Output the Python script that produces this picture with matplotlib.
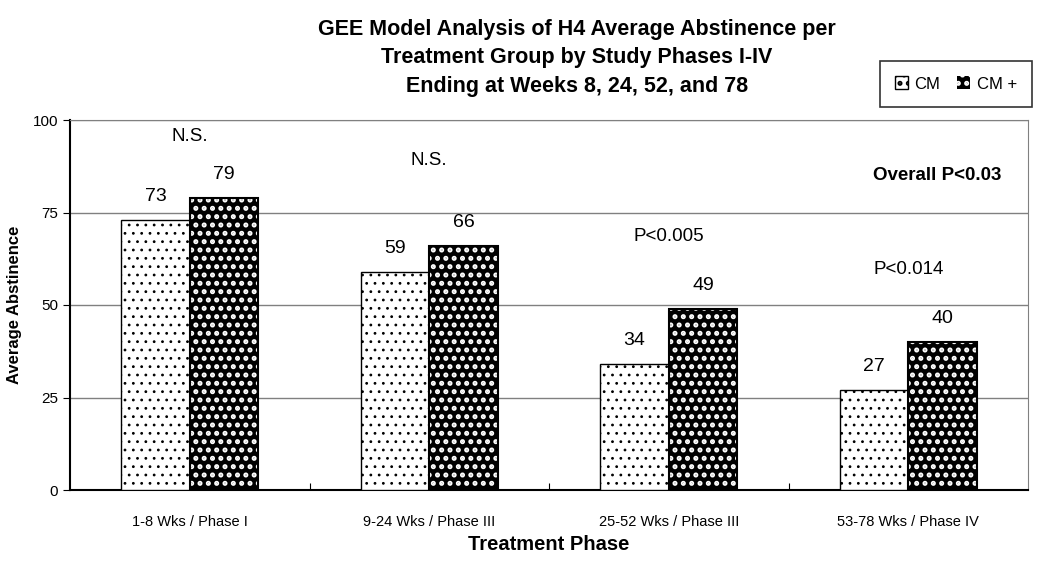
import matplotlib.pyplot as plt
import numpy as np

plt.rcParams['font.family'] = ['Liberation Sans', 'DejaVu Sans']

phases = ["1-8 Wks / Phase I", "9-24 Wks / Phase III", "25-52 Wks / Phase III", "53-78 Wks / Phase IV"]
cm = [73, 59, 34, 27]
cm_plus = [79, 66, 49, 40]
p_labels = ["N.S.", "N.S.", "P<0.005", "P<0.014"]
p_heights = [95.5, 89, 68.5, 59.5]

fig = plt.figure(figsize=(10.5, 5.62), dpi=100)
ax = fig.add_axes([70 / 1050, 72 / 562, 958 / 1050, 370 / 562])

x = np.arange(len(phases))
w = 0.285

# CM : white face with small black dots
plt.rcParams['hatch.linewidth'] = 0.8
b1 = ax.bar(x - w / 2, cm, w, facecolor='white', edgecolor='black', hatch='..', linewidth=1.0, zorder=3)
# CM+ : black face with white squares, then black outline
plt.rcParams['hatch.linewidth'] = 2.4
b2 = ax.bar(x + w / 2, cm_plus, w, facecolor='black', edgecolor='white', hatch='..', linewidth=0, zorder=3)
ax.bar(x + w / 2, cm_plus, w, facecolor='none', edgecolor='black', linewidth=1.5, zorder=4)

for i in range(len(phases)):
    ax.text(x[i] - w / 2, cm[i] + 4, str(cm[i]), ha='center', va='bottom', fontsize=14)
    ax.text(x[i] + w / 2, cm_plus[i] + 4, str(cm_plus[i]), ha='center', va='bottom', fontsize=14)
    ax.text(x[i], p_heights[i], p_labels[i], ha='center', va='center', fontsize=13.5)

ax.text(3.12, 85, "Overall P<0.03", ha='center', va='center', fontsize=13.5, fontweight='bold')

ax.set_xlim(-0.5, 3.5)
ax.set_ylim(0, 100)
ax.set_yticks([0, 25, 50, 75, 100])
ax.set_xticks([0.5, 1.5, 2.5])
ax.set_xticklabels([])
ax.set_xticks(x, minor=True)
ax.set_xticklabels(phases, minor=True, fontsize=10.5)
ax.tick_params(axis='x', which='minor', length=0, pad=18)
ax.tick_params(axis='x', which='major', length=5, direction='in')
ax.tick_params(axis='y', labelsize=11, length=5, direction='out')
ax.yaxis.grid(True, color='#808080', linewidth=1.0, zorder=0)
ax.set_axisbelow(True)
ax.spines['left'].set_linewidth(1.5)
ax.spines['bottom'].set_linewidth(1.5)
ax.spines['top'].set_color('#808080')
ax.spines['right'].set_color('#808080')

ax.set_ylabel("Average Abstinence", fontsize=12, fontweight='bold', labelpad=8)
fig.text(549 / 1050, 1 - 544 / 562, "Treatment Phase", ha='center', va='center',
         fontsize=14.5, fontweight='bold')

fig.text(577 / 1050, 1 - 58 / 562,
         "GEE Model Analysis of H4 Average Abstinence per\nTreatment Group by Study Phases I-IV\nEnding at Weeks 8, 24, 52, and 78",
         ha='center', va='center', fontsize=15.5, fontweight='bold', linespacing=1.45)

leg = fig.legend([b1, b2], ["CM", "CM +"], ncol=2, loc='center',
                 bbox_to_anchor=(956 / 1050, 1 - 84 / 562), fontsize=12,
                 frameon=True, fancybox=False, edgecolor='black',
                 handlelength=0.8, handleheight=0.8, handletextpad=0.4,
                 columnspacing=1.0, borderpad=0.9)
leg.get_frame().set_linewidth(1.2)

plt.savefig("out.png", dpi=100)
